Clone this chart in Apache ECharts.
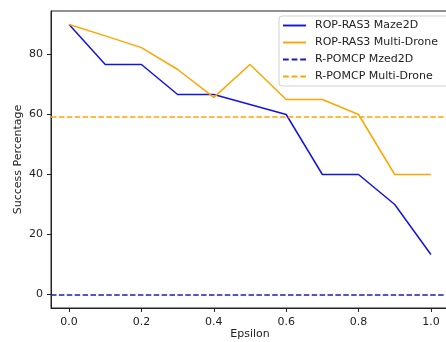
<!DOCTYPE html>
<html>
<head>
<meta charset="utf-8">
<script src="https://cdn.jsdelivr.net/npm/echarts@6/dist/echarts.min.js"></script>
<style>
  html, body { margin: 0; padding: 0; background: #fff; }
  #chart { width: 446px; height: 342px; }
</style>
</head>
<body>
<div id="chart"></div>
<script>
// 数据
var epsilon = [0.0, 0.1, 0.2, 0.3, 0.4, 0.5, 0.6, 0.7, 0.8, 0.9, 1.0];
var ropMaze = [90, 76.67, 76.67, 66.67, 66.67, 63.33, 60, 40, 40, 30, 13.33];
var ropDrone = [90, 86.2, 82.3, 75, 65.7, 76.67, 65, 65, 60, 40, 40];
var pomcpMaze = 0;
var pomcpDrone = 59.2;
var xTicks = [0.0, 0.2, 0.4, 0.6, 0.8, 1.0];
var yTicks = [0, 20, 40, 60, 80];

var FONT = 'DejaVu Sans';
var solidIcon = 'path://M0,0H24V2H0Z';
var dashIcon = 'path://M0,0H6V2H0Z M9,0H15V2H9Z M18,0H24V2H18Z';

var chart = echarts.init(document.getElementById('chart'));

var option = {
  animation: false,
  textStyle: { fontFamily: FONT },
  grid: {
    left: 51, top: 11, right: -3, bottom: 34,
    outerBoundsMode: 'none', containLabel: false,
    show: true, borderColor: '#222', borderWidth: 1
  },
  legend: {
    left: 279, top: 16,
    orient: 'vertical',
    backgroundColor: 'rgba(255,255,255,0.85)',
    borderColor: '#d0d0d0', borderWidth: 1, borderRadius: 3,
    padding: [3, 20, 3, 4],
    itemWidth: 23, itemHeight: 2, itemGap: 4,
    textStyle: { fontFamily: FONT, fontSize: 11, color: '#222', padding: [0, 0, 0, 4], lineHeight: 13 },
    data: [
      { name: 'ROP-RAS3 Maze2D', icon: solidIcon },
      { name: 'ROP-RAS3 Multi-Drone', icon: solidIcon },
      { name: 'R-POMCP Mzed2D', icon: dashIcon },
      { name: 'R-POMCP Multi-Drone', icon: dashIcon }
    ]
  },
  xAxis: {
    type: 'value', min: -0.05, max: 1.05,
    name: 'Epsilon', nameLocation: 'middle', nameGap: 21, nameMoveOverlap: false,
    nameTextStyle: { fontFamily: FONT, fontSize: 11, color: '#222' },
    axisLine: { show: true, onZero: false, lineStyle: { color: '#222' } },
    axisTick: { show: true, inside: false, length: 4, customValues: xTicks, lineStyle: { color: '#222' } },
    axisLabel: {
      customValues: xTicks, margin: 9, fontFamily: FONT, fontSize: 11, color: '#222',
      formatter: function (v) { return v.toFixed(1); }
    },
    splitLine: { show: false }
  },
  yAxis: {
    type: 'value', min: -4.5, max: 94.5,
    name: 'Success Percentage', nameLocation: 'middle', nameGap: 27, nameMoveOverlap: false,
    nameTextStyle: { fontFamily: FONT, fontSize: 11, color: '#222' },
    axisLine: { show: true, onZero: false, lineStyle: { color: '#222' } },
    axisTick: { show: true, inside: false, length: 4, customValues: yTicks, lineStyle: { color: '#222' } },
    axisLabel: { customValues: yTicks, margin: 8, fontFamily: FONT, fontSize: 11, color: '#222' },
    splitLine: { show: false }
  },
  series: [
    {
      name: 'ROP-RAS3 Maze2D', type: 'line', symbol: 'none',
      data: epsilon.map(function (e, i) { return [e, ropMaze[i]]; }),
      itemStyle: { color: '#1414e0' },
      lineStyle: { color: '#1414e0', width: 1.5 }
    },
    {
      name: 'ROP-RAS3 Multi-Drone', type: 'line', symbol: 'none',
      data: epsilon.map(function (e, i) { return [e, ropDrone[i]]; }),
      itemStyle: { color: '#ffa500' },
      lineStyle: { color: '#ffa500', width: 1.5 }
    },
    {
      name: 'R-POMCP Mzed2D', type: 'line', symbol: 'none', data: [],
      itemStyle: { color: '#1c1cb4' },
      markLine: {
        silent: true, symbol: 'none', label: { show: false },
        lineStyle: { color: '#1c1cb4', width: 1.5, type: [5.5, 2.4] },
        data: [{ yAxis: pomcpMaze }]
      }
    },
    {
      name: 'R-POMCP Multi-Drone', type: 'line', symbol: 'none', data: [],
      itemStyle: { color: '#ffa500' },
      markLine: {
        silent: true, symbol: 'none', label: { show: false },
        lineStyle: { color: '#ffa500', width: 1.5, type: [5.5, 2.4] },
        data: [{ yAxis: pomcpDrone }]
      }
    }
  ]
};

chart.setOption(option);
</script>
</body>
</html>
